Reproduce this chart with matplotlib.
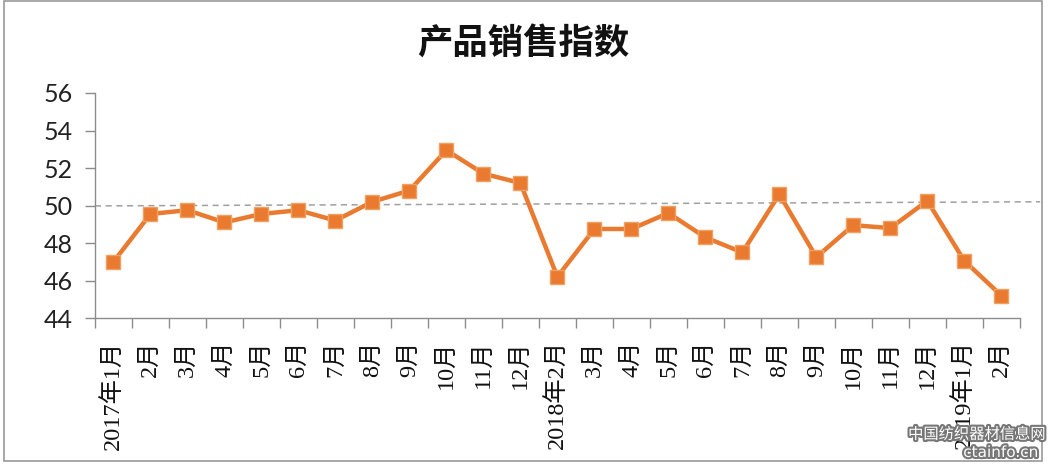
import matplotlib
matplotlib.use('Agg')
import matplotlib.pyplot as plt
import matplotlib.patheffects as pe
from matplotlib.patches import Rectangle
from matplotlib.lines import Line2D

months = ['2017年1月', '2月', '3月', '4月', '5月', '6月', '7月', '8月', '9月',
          '10月', '11月', '12月', '2018年2月', '3月', '4月', '5月', '6月', '7月',
          '8月', '9月', '10月', '11月', '12月', '2019年1月', '2月']
sales_index = [47.0, 49.55, 49.75, 49.1, 49.55, 49.75, 49.2, 50.2, 50.8,
               52.95, 51.7, 51.2, 46.2, 48.75, 48.75, 49.6, 48.3, 47.5,
               50.6, 47.25, 48.95, 48.8, 50.25, 47.05, 45.2]
trend_ends = [49.98, 50.2]

line_color = '#E97A30'
axis_grey = '#8c8c8c'

fig = plt.figure(figsize=(10.48, 4.65), dpi=100)
fig.patches.append(Rectangle((0.004, 0.008), 0.99, 0.99, transform=fig.transFigure,
                             fill=False, edgecolor='#9a9a9a', linewidth=1.2))
ax = fig.add_axes([0.0906, 0.316, 0.8825, 0.484])

xs = list(range(len(months)))
ax.plot(xs, sales_index, color=line_color, linewidth=3.2, marker='s',
        markersize=10, markerfacecolor=line_color, markeredgecolor='#F0A060',
        markeredgewidth=1.0, zorder=3)

# dashed trend line, runs a bit past the plot area
trend = Line2D([-0.5, 25.05], trend_ends, color='#a0a0a0', linewidth=1.1,
               linestyle=(0, (4, 3)), clip_on=False, zorder=2)
ax.add_line(trend)

ax.set_xlim(-0.5, len(months) - 0.5)
ax.set_ylim(44, 56)
ax.set_yticks(range(44, 57, 2))
ax.set_yticklabels([str(v) for v in range(44, 57, 2)],
                   fontfamily='Lato', fontsize=18, color='#222222')

ax.set_xticks(xs)
ax.set_xticklabels(months, rotation=90, va='top', ha='center',
                   fontfamily=['Liberation Serif', 'Noto Sans CJK SC'],
                   fontsize=17.5, color='#111111')
ax.set_xticks([i - 0.5 for i in range(len(months) + 1)], minor=True)
ax.tick_params(axis='x', which='major', length=0, pad=16)
ax.tick_params(axis='x', which='minor', length=7, width=1, color=axis_grey, direction='out')
ax.tick_params(axis='y', length=7, width=1, color=axis_grey, direction='out', pad=9)

for side in ['top', 'right']:
    ax.spines[side].set_visible(False)
for side in ['left', 'bottom']:
    ax.spines[side].set_color(axis_grey)
    ax.spines[side].set_linewidth(1.0)

fig.text(0.4995, 0.905, '产品销售指数', ha='center', va='center',
         fontfamily='Noto Sans CJK SC', fontweight='bold', fontsize=25.5, color='#111111')

# site watermark
shadow = [pe.withStroke(linewidth=3, foreground='#777777')]
fig.text(0.932, 0.066, '中国纺织器材信息网', ha='center', va='center', color='white',
         fontfamily='Noto Sans CJK SC', fontsize=11, path_effects=shadow)
fig.text(0.955, 0.027, 'ctainfo.cn', ha='center', va='center', color='white',
         fontfamily='DejaVu Sans', fontsize=11, path_effects=shadow)

fig.savefig('out.png', dpi=100)
